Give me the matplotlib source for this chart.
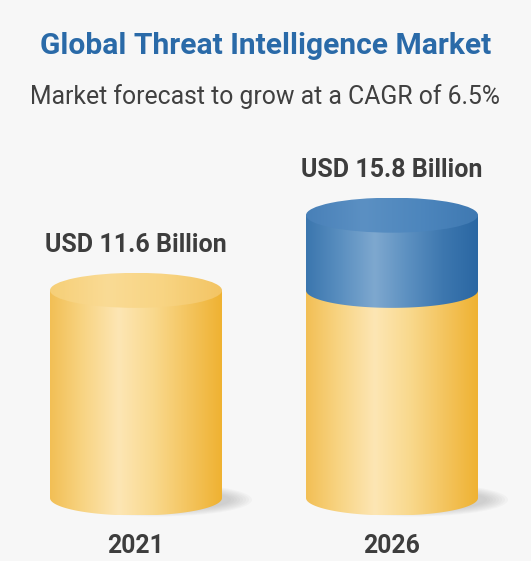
import numpy as np
import matplotlib.pyplot as plt
from matplotlib.patches import Ellipse, Polygon
from matplotlib.colors import LinearSegmentedColormap

plt.rcParams['font.family'] = ['Roboto', 'DejaVu Sans']

# data
years = ['2021', '2026']
values = [11.6, 15.8]
labels = ['USD 11.6 Billion', 'USD 15.8 Billion']
title = 'Global Threat Intelligence Market'
subtitle = 'Market forecast to grow at a CAGR of 6.5%'

# layout (pixel-like x, value y)
W, H = 531, 561
px_per_unit = 17.9
y0_px = 498          # pixel row of value 0
centers = [136, 392]
half_w = 86
ry = 17.5 / px_per_unit   # vertical radius of ellipses in value units

yellow_body = LinearSegmentedColormap.from_list(
    'yb', ['#f2bf55', '#f8d585', '#fde6b4', '#f9d98e', '#f4c560', '#efb232'])
yellow_top = LinearSegmentedColormap.from_list(
    'yt', ['#f6cf77', '#fadb95', '#f8d482', '#f3c463'])
blue_body = LinearSegmentedColormap.from_list(
    'bb', ['#3b76ae', '#5a8fc0', '#7ea8cf', '#5b8fc0', '#3d77af', '#2a67a3'])
blue_top = LinearSegmentedColormap.from_list(
    'bt', ['#4880b8', '#5b90c3', '#4d86bd', '#3f79b2'])

fig = plt.figure(figsize=(W / 100, H / 100), dpi=100)
fig.patch.set_facecolor('#f7f7f7')
ax = fig.add_axes([0, 0, 1, 1])
ax.set_xlim(0, W)
ax.set_ylim(-(H - y0_px) / px_per_unit, y0_px / px_per_unit)
ax.axis('off')
ax.set_facecolor('#f7f7f7')

grad = np.linspace(0, 1, 256).reshape(1, -1)


def ellipse_pts(cx, cy, a, b, t0, t1, n=100):
    t = np.linspace(t0, t1, n)
    return np.column_stack([cx + a * np.cos(t), cy + b * np.sin(t)])


def body(cx, ylo, yhi, cmap, z):
    # side of the cylinder: rectangle + lower half ellipse
    lower = ellipse_pts(cx, ylo, half_w, ry, np.pi, 2 * np.pi)
    pts = np.vstack([[cx - half_w, yhi], lower, [cx + half_w, yhi]])
    poly = Polygon(pts, closed=True, facecolor='none', edgecolor='none')
    ax.add_patch(poly)
    im = ax.imshow(grad, cmap=cmap, aspect='auto', zorder=z,
                   extent=[cx - half_w, cx + half_w, ylo - ry, yhi])
    im.set_clip_path(poly)


def top(cx, y, cmap, z):
    el = Ellipse((cx, y), 2 * half_w, 2 * ry, facecolor='none', edgecolor='none')
    ax.add_patch(el)
    im = ax.imshow(grad, cmap=cmap, aspect='auto', zorder=z,
                   extent=[cx - half_w, cx + half_w, y - ry, y + ry])
    im.set_clip_path(el)


# soft shadows on the floor
for cx in centers:
    for k in range(8):
        sh = Ellipse((cx + 22, -0.1), 2 * half_w + 16 - k * 6, 2 * ry * 0.95 - k * 0.1,
                     facecolor='#8a8a8a', edgecolor='none', alpha=0.05, zorder=1)
        ax.add_patch(sh)

# 2021 cylinder
body(centers[0], 0, values[0], yellow_body, 2)
top(centers[0], values[0], yellow_top, 3)

# 2026 cylinder: base in yellow, growth in blue
body(centers[1], 0, values[0], yellow_body, 2)
body(centers[1], values[0], values[1], blue_body, 4)
top(centers[1], values[1], blue_top, 5)

txt = '#3d3d3d'
for cx, v, lab, yr in zip(centers, values, labels, years):
    ax.text(cx, v + ry + 1.55, lab, ha='center', va='center', fontsize=18,
            fontweight='bold', color=txt)
    fig.text(cx / W, 1 - 546 / H, yr, ha='center', va='center', fontsize=17.8,
             fontweight='bold', color=txt)

fig.text(0.5, 1 - 46 / H, title, ha='center', va='center', fontsize=21.6,
         fontweight='bold', color='#2a6aa8')
fig.text(0.5, 1 - 97 / H, subtitle, ha='center', va='center', fontsize=17.8,
         color='#404040')

fig.savefig('out.png', dpi=100, facecolor=fig.get_facecolor())
